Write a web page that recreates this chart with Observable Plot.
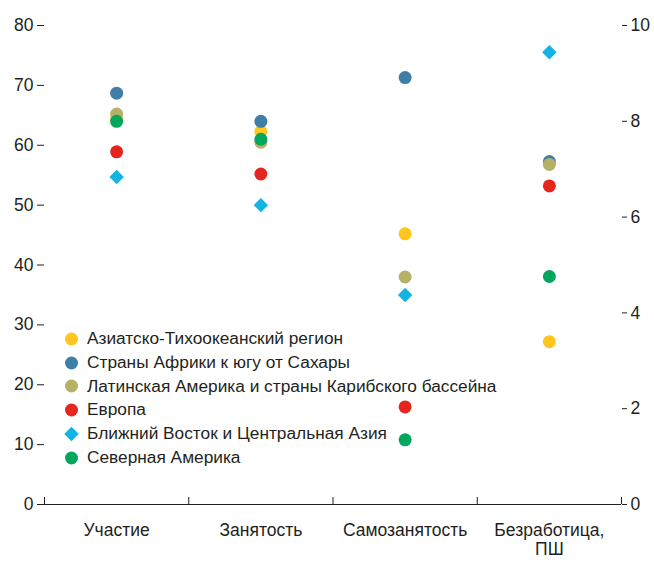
<!DOCTYPE html>
<html>
<head>
<meta charset="utf-8">
<script src="https://cdn.jsdelivr.net/npm/d3@7"></script>
<script src="https://cdn.jsdelivr.net/npm/@observablehq/plot@0.6"></script>
<style>
  body { margin: 0; background: #fff; }
  #wrap { position: relative; width: 654px; height: 562px; font-family: "Liberation Sans", Arial, sans-serif; color: #231f20; }
  #legend { position: absolute; left: 64px; top: 327px; font-size: 17.3px; line-height: 23.8px; }
  #legend .row { display: flex; align-items: center; white-space: nowrap; height: 23.8px; }
  #legend svg { margin-right: 8px; flex: none; }
</style>
</head>
<body>
<div id="wrap"><div id="legend"></div></div>
<script>
const categories = ["Участие", "Занятость", "Самозанятость", "Безработица,\nПШ"];
const regions = [
  "Азиатско-Тихоокеанский регион",
  "Страны Африки к югу от Сахары",
  "Латинская Америка и страны Карибского бассейна",
  "Европа",
  "Ближний Восток и Центральная Азия",
  "Северная Америка"
];
const colors = ["#ffc61e", "#3f7fa7", "#b7b067", "#e5261f", "#12b4e3", "#00a75d"];
const symbols = ["circle", "circle", "circle", "circle", "diamond2", "circle"];

// Participation, Employment, Self-employment (left axis, %), Unemployment (right axis, %)
const asiaPacific      = [64.4, 62.3, 45.2, 3.4];
const subSaharanAfrica = [68.7, 64.0, 71.3, 7.16];
const latinAmerica     = [65.2, 60.5, 38.0, 7.1];
const europe           = [58.9, 55.2, 16.3, 6.65];
const middleEastCA     = [54.7, 50.0, 35.0, 9.44];
const northAmerica     = [64.0, 61.0, 10.8, 4.76];

const leftTicks = [0, 10, 20, 30, 40, 50, 60, 70, 80];
const rightTicks = [0, 2, 4, 6, 8, 10];
const axisRatio = 80 / 10; // right axis value -> left axis units

const series = [asiaPacific, subSaharanAfrica, latinAmerica, europe, middleEastCA, northAmerica];
const rows = [];
series.forEach((vals, s) => vals.forEach((v, i) => {
  rows.push({region: regions[s], i, y: i === 3 ? v * axisRatio : v});
}));
const boundaries = d3.range(categories.length + 1).map(k => k - 0.5);

const W = 654, H = 562, mT = 25, mB = 58, mL = 44, mR = 33;
const ink = "#231f20";
const FS = 17.5;

const chart = Plot.plot({
  width: W, height: H,
  marginTop: mT, marginBottom: mB, marginLeft: mL, marginRight: mR,
  style: {fontFamily: "'Liberation Sans', Arial, sans-serif", fontSize: FS + "px", color: ink, background: "#fff"},
  x: {type: "linear", domain: [-0.5, categories.length - 0.5], axis: null},
  y: {domain: [0, 80], axis: null},
  color: {domain: regions, range: colors},
  symbol: {domain: regions, range: symbols},
  marks: [
    Plot.axisY({ticks: leftTicks, anchor: "left", tickSize: 7, tickPadding: 4, label: null, fontSize: FS, stroke: ink, fill: ink}),
    Plot.axisY({ticks: rightTicks.map(t => t * axisRatio), tickFormat: d => d / axisRatio, anchor: "right", tickSize: 5, tickPadding: 4, label: null, fontSize: FS, stroke: ink, fill: ink}),
    Plot.axisX({ticks: d3.range(categories.length), tickFormat: i => categories[i], anchor: "bottom", tickSize: 0, tickPadding: 18, label: null, fontSize: FS, lineHeight: 1.1, fill: ink}),
    Plot.ruleY([0], {stroke: ink, strokeWidth: 1}),
    Plot.tickX(boundaries, {x: d => d, stroke: ink, insetTop: H - mT - mB - 7}),
    Plot.dot(rows, {x: "i", y: "y", fill: "region", symbol: "region", r: 6.5, stroke: "none"})
  ]
});
document.getElementById("wrap").prepend(chart);

const legend = d3.select("#legend");
regions.forEach((name, k) => {
  const row = legend.append("div").attr("class", "row");
  const svg = row.append("svg").attr("width", 15).attr("height", 16).attr("viewBox", "-7.5 -8 15 16");
  const sym = symbols[k] === "diamond2" ? d3.symbolDiamond2 : d3.symbolCircle;
  svg.append("path").attr("d", d3.symbol(sym, Math.PI * 6.5 * 6.5)()).attr("fill", colors[k]);
  row.append("span").text(name);
});
</script>
</body>
</html>
